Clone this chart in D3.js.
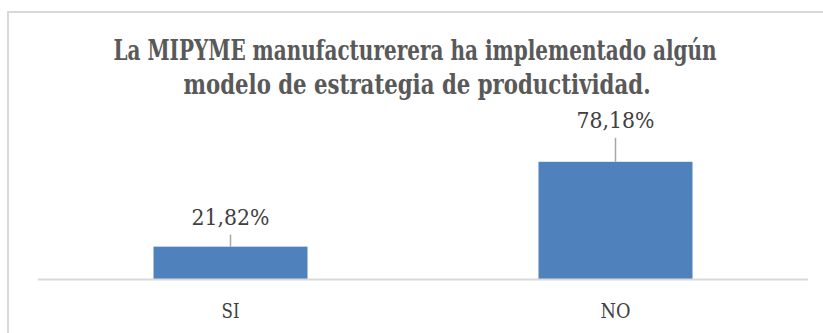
<!DOCTYPE html>
<html>
<head>
<meta charset="utf-8">
<script src="https://cdn.jsdelivr.net/npm/d3@7"></script>
<style>
  html, body { margin: 0; padding: 0; background: #fff; }
  svg { display: block; }
  text { font-family: "DejaVu Serif", serif; }
</style>
</head>
<body>
<svg id="chart" width="823" height="333"></svg>
<script>
// Chart data
const categories = ["SI", "NO"];
const values = [21.82, 78.18];
const valueLabels = ["21,82%", "78,18%"];
const titleLines = [
  "La MIPYME manufacturerera ha implementado algún",
  "modelo de estrategia de productividad."
];

const W = 823, H = 333;
const svg = d3.select("#chart");

// Outer chart frame (open on the right and bottom edges of the view)
svg.append("rect")
  .attr("x", 8).attr("y", 12)
  .attr("width", 830).attr("height", 340)
  .attr("fill", "#fff")
  .attr("stroke", "#d9d9d9")
  .attr("stroke-width", 2);

// Plot area
const plot = { left: 38, right: 808, top: 144, bottom: 279.5 };

const x = d3.scaleBand()
  .domain(categories)
  .range([plot.left, plot.right])
  .paddingInner(0.6)
  .paddingOuter(0.3);

const y = d3.scaleLinear()
  .domain([0, 90])
  .range([plot.bottom, plot.top]);

// Title: two centred lines in a narrowed bold serif
const titleLayout = [
  { cx: 415, baseline: 60, squeeze: 0.715 },
  { cx: 417, baseline: 94, squeeze: 0.76 }
];
svg.append("g").selectAll("text")
  .data(titleLines)
  .join("text")
  .attr("transform", (d, i) => {
    const t = titleLayout[i];
    return `translate(${t.cx},${t.baseline}) scale(${t.squeeze},1)`;
  })
  .attr("text-anchor", "middle")
  .attr("font-size", 28)
  .attr("font-weight", "bold")
  .attr("fill", "#595959")
  .text(d => d);

const data = categories.map((c, i) => ({ cat: c, value: values[i], label: valueLabels[i] }));

// Bars
svg.append("g").selectAll("rect")
  .data(data)
  .join("rect")
  .attr("x", d => x(d.cat))
  .attr("y", d => y(d.value))
  .attr("width", x.bandwidth())
  .attr("height", d => y(0) - y(d.value))
  .attr("fill", "#4f81bd");

// Category axis
const xAxis = svg.append("g")
  .attr("transform", `translate(0,${plot.bottom})`)
  .call(d3.axisBottom(x).tickSize(0).tickPadding(0).tickSizeOuter(0));
xAxis.select(".domain")
  .attr("stroke", "#d9d9d9")
  .attr("stroke-width", 2)
  .attr("d", `M${plot.left},0H${plot.right}`);
xAxis.selectAll(".tick text")
  .attr("font-family", "DejaVu Serif, serif")
  .attr("font-size", 21)
  .attr("fill", "#404040")
  .attr("dy", 0)
  .attr("y", 38.5)
  .attr("textLength", d => d === "SI" ? 18 : 30)
  .attr("lengthAdjust", "spacingAndGlyphs");

// Data labels, lifted above the bars with leader lines
const labelLift = [22, 34];
const labels = svg.append("g").selectAll("g")
  .data(data)
  .join("g");

labels.append("line")
  .attr("x1", d => x(d.cat) + x.bandwidth() / 2)
  .attr("x2", d => x(d.cat) + x.bandwidth() / 2)
  .attr("y1", (d, i) => y(d.value) - labelLift[i] + 10)
  .attr("y2", d => y(d.value))
  .attr("stroke", "#a6a6a6")
  .attr("stroke-width", 1.5);

labels.append("text")
  .attr("x", d => x(d.cat) + x.bandwidth() / 2)
  .attr("y", (d, i) => y(d.value) - labelLift[i])
  .attr("text-anchor", "middle")
  .attr("font-size", 22)
  .attr("fill", "#404040")
  .attr("textLength", 78)
  .attr("lengthAdjust", "spacingAndGlyphs")
  .text(d => d.label);
</script>
</body>
</html>
